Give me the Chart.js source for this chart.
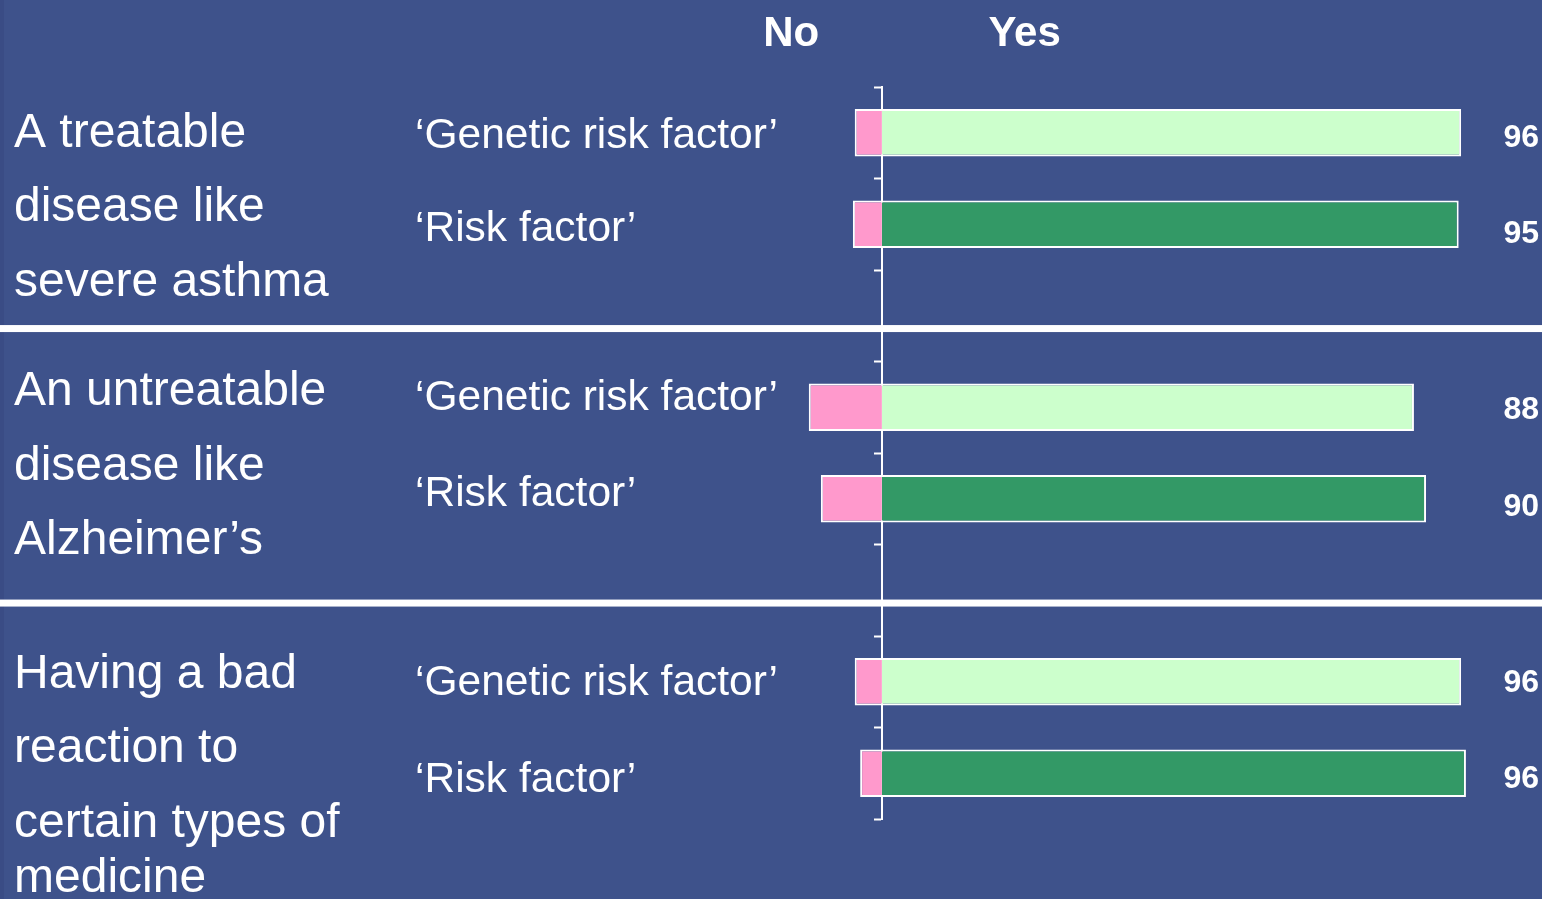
<!DOCTYPE html>
<html>
<head>
<meta charset="utf-8">
<script src="https://cdn.jsdelivr.net/npm/chart.js@4.4.1/dist/chart.umd.min.js"></script>
<style>
  html, body { margin: 0; padding: 0; background: #3e528b; overflow: hidden; }
  #wrap { width: 1542px; height: 899px; }
</style>
</head>
<body>
<div id="wrap"><canvas id="chart"></canvas></div>
<script>
// rows of the chart, empty rows are the gaps between the three groups
const rowLabels = ['‘Genetic risk factor’', '‘Risk factor’', '', '‘Genetic risk factor’', '‘Risk factor’', '', '‘Genetic risk factor’', '‘Risk factor’'];
const noValues = [-4.5, -4.8, null, -12.1, -10.1, null, -4.5, -3.6];
const yesValues = [95.8, 95.4, null, 88, 90, null, 95.8, 96.6];
const yesLabels = ['96', '95', '', '88', '90', '', '96', '96'];
const groupLabels = [
  ['A treatable', 'disease like', 'severe asthma'],
  ['An untreatable', 'disease like', 'Alzheimer’s'],
  ['Having a bad', 'reaction to', 'certain types of\nmedicine']
];
const groupStart = [0, 3, 6];
const gapRows = [2, 5];

const LIGHT = '#ccffcc';
const DARK = '#339966';
const PINK = '#ff99cc';
const FONT = '"Liberation Sans", Arial, sans-serif';

// small vertical nudges for the texts, in px
const rowNudge = [15, 17, 3, 7, 13, 19];
const valueNudge = [14, 19, 12, 17, 10, 15];
const groupNudge = [14, -2, 6];

const textPlugin = {
  id: 'texts',
  beforeDraw(chart) {
    const ctx = chart.ctx;
    const y = chart.scales.y;
    ctx.save();
    ctx.fillStyle = '#3e528b';
    ctx.fillRect(0, 0, chart.width, chart.height);
    ctx.fillStyle = '#3a4c85';
    ctx.fillRect(0, 0, 4, chart.height);
    // white separators between groups
    const step = y.getPixelForValue(1) - y.getPixelForValue(0);
    ctx.fillStyle = '#ffffff';
    gapRows.forEach(i => {
      const py = y.getPixelForValue(i) + step * 0.14;
      ctx.fillRect(0, py - 3.5, chart.width, 7);
    });
    ctx.restore();
  },
  afterDraw(chart) {
    const ctx = chart.ctx;
    const x = chart.scales.x;
    const y = chart.scales.y;
    ctx.save();
    ctx.fillStyle = '#ffffff';
    ctx.textBaseline = 'alphabetic';

    ctx.font = 'bold 42px ' + FONT;
    ctx.textAlign = 'center';
    ctx.fillText('No', x.getPixelForValue(-15), 46);
    ctx.fillText('Yes', x.getPixelForValue(23.6), 46);

    ctx.font = '48px ' + FONT;
    ctx.textAlign = 'left';
    groupLabels.forEach((lines, g) => {
      let py = y.getPixelForValue(groupStart[g]) + groupNudge[g];
      lines.forEach(line => {
        line.split('\n').forEach((part, k) => {
          if (k > 0) py += 55;
          ctx.fillText(part, 14, py);
        });
        py += 74.5;
      });
    });

    let r = 0;
    rowLabels.forEach((lab, i) => {
      if (!lab) return;
      const cy = y.getPixelForValue(i);
      ctx.font = '42.5px ' + FONT;
      ctx.textAlign = 'left';
      ctx.fillText(lab, 415, cy + rowNudge[r]);
      ctx.font = 'bold 32px ' + FONT;
      ctx.textAlign = 'right';
      ctx.fillText(yesLabels[i], 1539, cy + valueNudge[r]);
      r++;
    });
    ctx.restore();
  }
};

new Chart(document.getElementById('chart'), {
  type: 'bar',
  data: {
    labels: rowLabels,
    datasets: [
      {
        label: 'No',
        data: noValues,
        backgroundColor: PINK,
        borderColor: '#ffffff',
        borderWidth: 2
      },
      {
        label: 'Yes',
        data: yesValues,
        backgroundColor: ctx => (ctx.dataIndex % 3 === 0 ? LIGHT : DARK),
        borderColor: '#ffffff',
        borderWidth: 2
      }
    ]
  },
  options: {
    indexAxis: 'y',
    responsive: true,
    maintainAspectRatio: false,
    animation: false,
    barPercentage: 0.52,
    categoryPercentage: 1,
    layout: { padding: { left: 761, right: 55.5, top: 87, bottom: 80 } },
    plugins: {
      legend: { display: false },
      tooltip: { enabled: false }
    },
    scales: {
      x: {
        stacked: true,
        min: -20,
        max: 100,
        display: false
      },
      y: {
        stacked: true,
        position: { x: 0 },
        z: 1,
        ticks: { display: false },
        grid: {
          drawOnChartArea: false,
          drawTicks: true,
          tickLength: 7,
          tickWidth: 2,
          color: '#ffffff',
          offset: true
        },
        border: { display: true, color: '#ffffff', width: 2 }
      }
    }
  },
  plugins: [textPlugin]
});
</script>
</body>
</html>
